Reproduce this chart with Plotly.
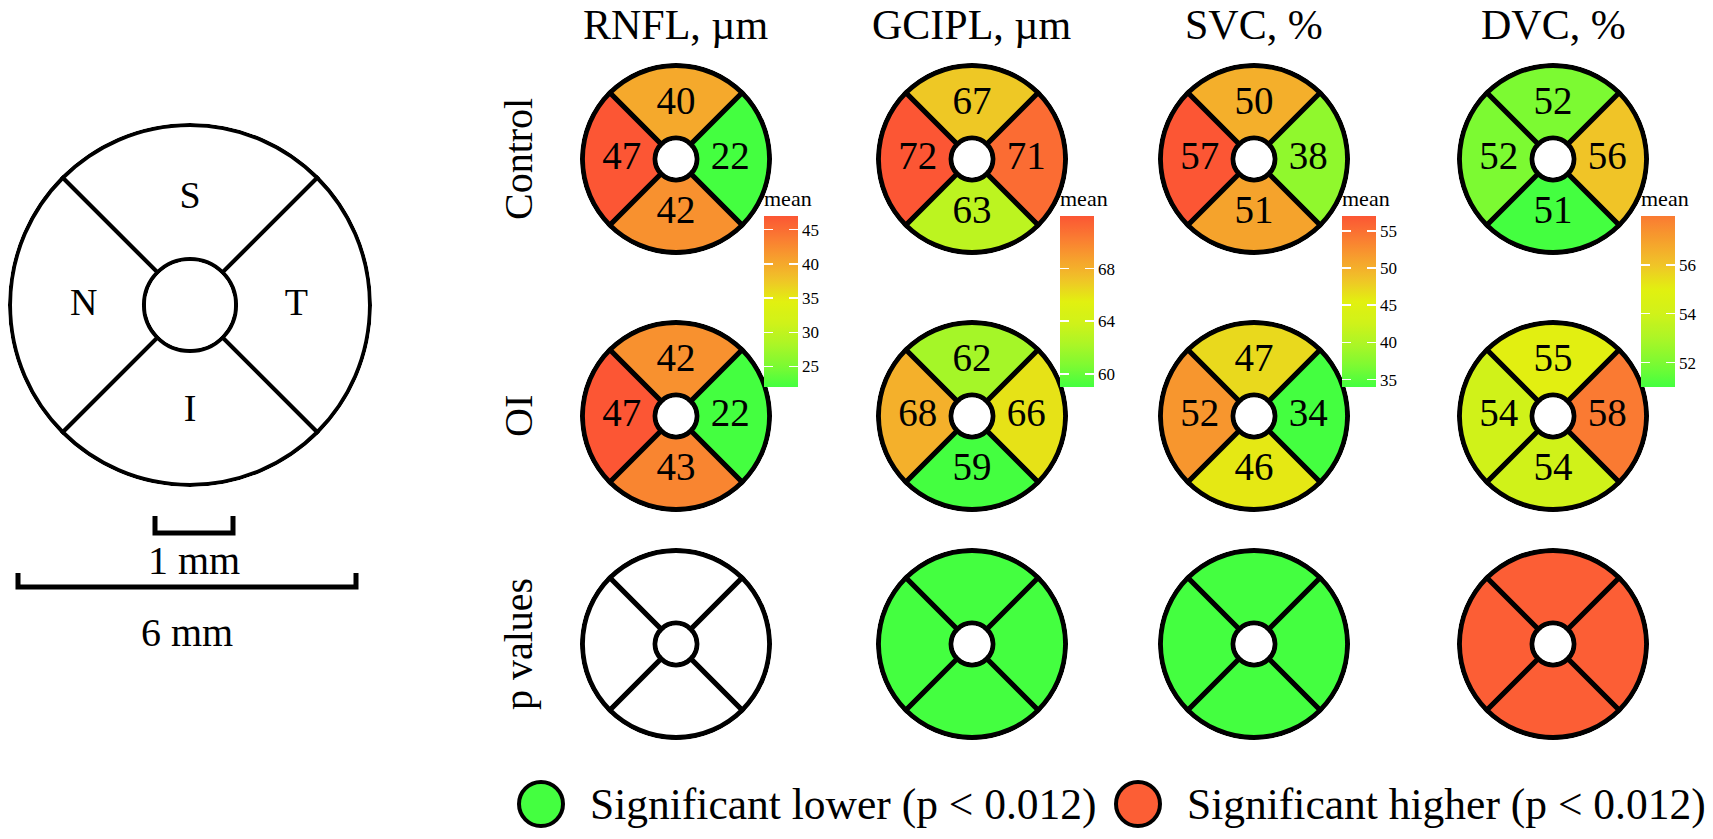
import numpy as np
import plotly.graph_objects as go

W, H = 1713, 839
FONT = "Liberation Serif"

# ---------------- data ----------------
sectors = ["S", "N", "T", "I"]
sector_theta = [90, 180, 0, 270]

column_titles = ["RNFL, µm", "GCIPL, µm", "SVC, %", "DVC, %"]
row_titles = ["Control", "OI", "p values"]

rnfl_control = [40, 47, 22, 42]
rnfl_oi = [42, 47, 22, 43]
gcipl_control = [67, 72, 71, 63]
gcipl_oi = [62, 68, 66, 59]
svc_control = [50, 57, 38, 51]
svc_oi = [47, 52, 34, 46]
dvc_control = [52, 52, 56, 51]
dvc_oi = [55, 54, 58, 54]

p_result = ["ns", "lower", "lower", "higher"]

colorbar_ticks = [[25, 30, 35, 40, 45], [60, 64, 68], [35, 40, 45, 50, 55], [52, 54, 56]]
color_midpoints = [34.5, 65.5, 45.5, 55.0]

legend_results = ["lower", "higher"]
legend_labels = ["Significant lower (p &lt; 0.012)", "Significant higher (p &lt; 0.012)"]

scale_labels = ["1 mm", "6 mm"]

# ---------------- styles / layout ----------------
result_color = {"ns": "white", "lower": "#44FF40", "higher": "#FC5E35"}
scale_t = [-1, -0.75, -0.5, -0.25, 0, 0.25, 0.5, 0.75, 1]
scale_rgb = [(68, 255, 64), (125, 250, 50), (172, 245, 38), (208, 242, 25), (226, 240, 16),
             (240, 196, 40), (246, 160, 45), (250, 122, 50), (252, 86, 52)]

col_x = [676, 972, 1254, 1553]
row_y = [159, 416, 644]

# small rings: polar radius, hole fraction, radial padding (so strokes are not clipped)
RP = 96
HOLE = 0.193
PAD = 0.033
TEXT_R = 0.46

diag_cx, diag_cy = 190, 305
DIAG_RP = 182
DIAG_HOLE = 0.242
DIAG_PAD = 0.015

CB_TOP, CB_BOTTOM, CB_TITLE = 218, 387, 32
CB_OFFSET, CB_THICK, CB_TICKLEN = 88, 34, 9


def color_at(v, mid, D):
    t = float(np.clip((v - mid) / D, -1, 1))
    rgb = [np.interp(t, scale_t, [c[i] for c in scale_rgb]) for i in range(3)]
    return "rgb(%d,%d,%d)" % tuple(int(round(x)) for x in rgb)


def make_colorscale(vmin, vmax, mid):
    D = max(mid - vmin, vmax - mid)
    vs = np.linspace(vmin, vmax, 31)
    return [[(v - vmin) / (vmax - vmin), color_at(v, mid, D)] for v in vs]


def domain(cx, cy, r):
    return dict(x=[(cx - r) / W, (cx + r) / W], y=[1 - (cy + r) / H, 1 - (cy - r) / H])


def polar_layout(cx, cy, rp, hole, pad):
    return dict(domain=domain(cx, cy, rp), hole=hole, bgcolor="rgba(0,0,0,0)",
                radialaxis=dict(visible=False, range=[-pad, 1 + pad]),
                angularaxis=dict(visible=False))


def colorbar(j, thickness, labels):
    title_color = "black" if labels else "rgba(0,0,0,0)"
    return dict(
        x=(col_x[j] + CB_OFFSET) / W, xanchor="left", xpad=0, ypad=0,
        y=1 - ((CB_TOP - CB_TITLE) + CB_BOTTOM) / 2 / H, yanchor="middle",
        len=CB_BOTTOM - CB_TOP + CB_TITLE, lenmode="pixels",
        thickness=thickness, thicknessmode="pixels",
        outlinewidth=0, ticks="inside", tickcolor="white", ticklen=CB_TICKLEN, tickwidth=1.5,
        tickvals=colorbar_ticks[j], showticklabels=labels,
        tickfont=dict(family=FONT, size=17, color="black"),
        title=dict(text="mean", side="top", font=dict(family=FONT, size=22, color=title_color)))


fig = go.Figure()
layout_polars = {}

col_data = [(rnfl_control, rnfl_oi), (gcipl_control, gcipl_oi),
            (svc_control, svc_oi), (dvc_control, dvc_oi)]

k = 0
for j, (ctrl, oi) in enumerate(col_data):
    allv = ctrl + oi
    vmin, vmax = min(allv), max(allv)
    cs = make_colorscale(vmin, vmax, color_midpoints[j])
    for i, vals in enumerate([ctrl, oi]):
        k += 1
        name = "polar" if k == 1 else "polar%d" % k
        layout_polars[name] = polar_layout(col_x[j], row_y[i], RP, HOLE, PAD)
        # main colorbar (labels, right-edge ticks) on control trace;
        # narrow overlay (left-edge ticks) on OI trace
        cb = colorbar(j, CB_THICK, True) if i == 0 else colorbar(j, CB_TICKLEN, False)
        marker = dict(color=vals, colorscale=cs, cmin=vmin, cmax=vmax,
                      line=dict(color="black", width=5), showscale=True, colorbar=cb)
        fig.add_trace(go.Barpolar(r=[1] * 4, theta=sector_theta, width=[90] * 4, base=0,
                                  marker=marker, subplot=name, hoverinfo="skip"))
        fig.add_trace(go.Scatterpolar(r=[TEXT_R] * 4, theta=sector_theta, mode="text",
                                      text=[str(v) for v in vals],
                                      textfont=dict(family=FONT, size=39, color="black"),
                                      subplot=name, hoverinfo="skip"))
    # p-value row
    k += 1
    name = "polar%d" % k
    layout_polars[name] = polar_layout(col_x[j], row_y[2], RP, HOLE, PAD)
    fig.add_trace(go.Barpolar(r=[1] * 4, theta=sector_theta, width=[90] * 4, base=0,
                              marker=dict(color=[result_color[p_result[j]]] * 4,
                                          line=dict(color="black", width=5)),
                              subplot=name, hoverinfo="skip"))

# schematic diagram
k += 1
name = "polar%d" % k
layout_polars[name] = polar_layout(diag_cx, diag_cy, DIAG_RP, DIAG_HOLE, DIAG_PAD)
fig.add_trace(go.Barpolar(r=[1] * 4, theta=sector_theta, width=[90] * 4, base=0,
                          marker=dict(color="white", line=dict(color="black", width=4)),
                          subplot=name, hoverinfo="skip"))
fig.add_trace(go.Scatterpolar(r=[0.45] * 4, theta=sector_theta, mode="text", text=sectors,
                              textfont=dict(family=FONT, size=38, color="black"),
                              subplot=name, hoverinfo="skip"))

# scale bars (cartesian pixel axis)
bars = [(155, 233, 533, 516), (18, 356, 587, 573)]
for (x0, x1, yb, yt) in bars:
    fig.add_trace(go.Scatter(x=[x0, x0, x1, x1], y=[yt, yb, yb, yt], mode="lines",
                             line=dict(color="black", width=5), hoverinfo="skip"))

# legend markers
legend_x = [541, 1138]
legend_y = 804
fig.add_trace(go.Scatter(x=legend_x, y=[legend_y] * 2, mode="markers",
                         marker=dict(size=44, color=[result_color[r] for r in legend_results],
                                     line=dict(color="black", width=4)),
                         hoverinfo="skip"))

annotations = []
for j, t in enumerate(column_titles):
    annotations.append(dict(x=col_x[j], y=25, text=t, showarrow=False, xref="x", yref="y",
                            font=dict(family=FONT, size=42, color="black")))
for i, t in enumerate(row_titles):
    annotations.append(dict(x=518, y=row_y[i], text=t, textangle=-90, showarrow=False,
                            xref="x", yref="y", font=dict(family=FONT, size=40, color="black")))
for (x0, x1, yb, yt), lab, ty in zip(bars, scale_labels, [560, 632]):
    annotations.append(dict(x=(x0 + x1) / 2, y=ty, text=lab, showarrow=False, xref="x", yref="y",
                            font=dict(family=FONT, size=40, color="black")))
for lx, lab in zip(legend_x, legend_labels):
    annotations.append(dict(x=lx + 47, y=legend_y, text=lab, showarrow=False, xanchor="left",
                            xref="x", yref="y", font=dict(family=FONT, size=43.5, color="black")))

fig.update_layout(
    width=W, height=H, margin=dict(l=0, r=0, t=0, b=0),
    paper_bgcolor="white", plot_bgcolor="white", showlegend=False,
    xaxis=dict(range=[0, W], visible=False, domain=[0, 1], fixedrange=True),
    yaxis=dict(range=[H, 0], visible=False, domain=[0, 1], fixedrange=True),
    annotations=annotations,
    **layout_polars,
)

fig.write_html("out.html", config={"displayModeBar": False, "staticPlot": True},
               post_script="document.body.style.margin='0';document.body.style.overflow='hidden';")
